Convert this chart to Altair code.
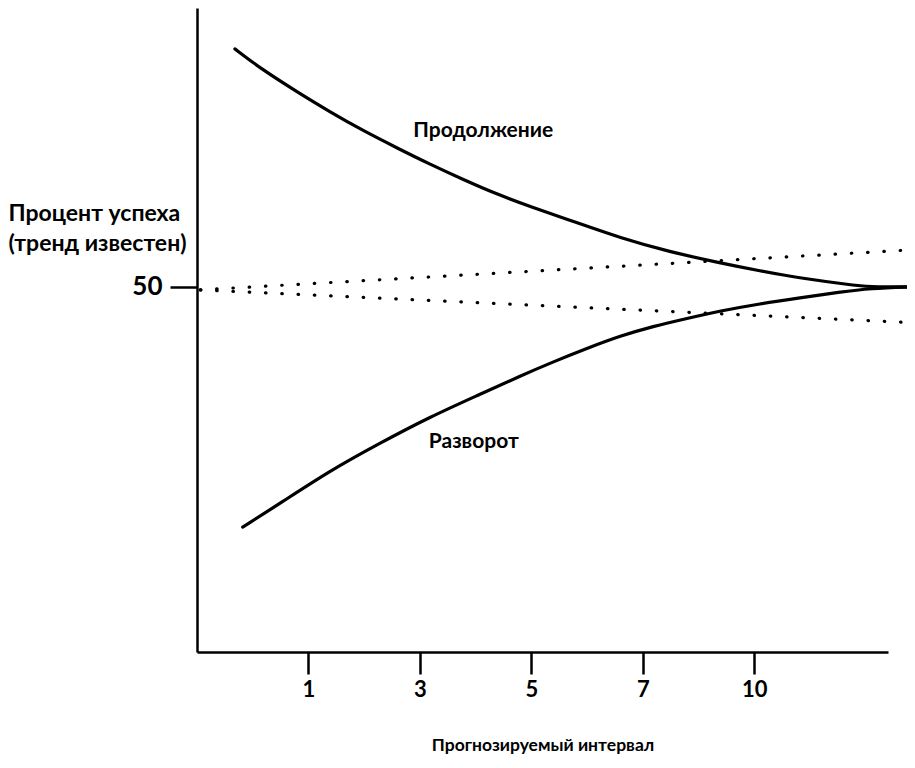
import altair as alt
import pandas as pd

# Curve "Продолжение" (continuation)
cont_x = [0.34, 0.59, 0.90, 1.19, 1.49, 1.80, 2.09, 2.39, 2.69, 2.99, 3.41, 3.80, 4.24, 4.69, 5.05, 5.41, 5.95, 6.08, 6.42]
cont_y = [82.6, 79.7, 76.7, 74.0, 71.4, 69.0, 66.8, 64.7, 62.7, 61.0, 58.8, 56.7, 54.8, 53.3, 52.2, 51.2, 50.1, 50.0, 50.0]
# Curve "Разворот" (reversal)
rev_x = [0.41, 0.75, 1.19, 1.64, 2.09, 2.54, 2.90, 3.19, 3.50, 3.80, 4.09, 4.40, 4.69, 5.05, 5.41, 5.77, 6.04, 6.42]
rev_y = [17.1, 20.4, 24.8, 28.6, 32.2, 35.3, 37.8, 39.7, 41.6, 43.3, 44.6, 45.7, 46.7, 47.7, 48.5, 49.3, 49.8, 50.0]
# Dotted bounds around 50
dot_x = [0.03, 6.44]
dot_up = [49.6, 55.1]
dot_lo = [49.6, 45.1]

tick_pos = [1, 2, 3, 4, 5]
tick_labels = ["1", "3", "5", "7", "10"]

label_names = ["Продолжение", "Разворот"]
label_x = [1.94, 2.08]
label_y = [71.4, 28.8]

curves = pd.DataFrame(
    {"x": cont_x + rev_x,
     "y": cont_y + rev_y,
     "s": ["cont"] * len(cont_x) + ["rev"] * len(rev_x)}
)
dots = pd.DataFrame(
    {"x": dot_x + dot_x,
     "y": dot_up + dot_lo,
     "s": ["up"] * 2 + ["lo"] * 2}
)
labels = pd.DataFrame({"t": label_names, "x": label_x, "y": label_y})

label_expr = "[" + ",".join("'%s'" % t for t in tick_labels) + "][datum.value - 1]"

xscale = alt.Scale(domain=[0, 6.2], nice=False, zero=False)
yscale = alt.Scale(domain=[0, 88.2], nice=False, zero=False)

xaxis = alt.Axis(
    values=tick_pos, labelExpr=label_expr, grid=False,
    title="Прогнозируемый интервал", titleFontSize=17.5, titleFontWeight="bold",
    titleY=93, titleBaseline="middle",
    labelFontSize=22, labelFontWeight="bold", labelPadding=5, labelColor="black",
    tickSize=22, tickWidth=2.5, tickColor="black",
    domainWidth=2.5, domainColor="black",
)
yaxis = alt.Axis(
    values=[50], grid=False,
    title=["Процент успеха", "(тренд известен)"], titleAngle=0, titleAlign="left",
    titleX=-189, titleY=205, titleBaseline="middle", titleLineHeight=30,
    titleFontSize=23, titleFontWeight="bold",
    labelFontSize=26, labelFontWeight="bold", labelPadding=8, labelColor="black",
    tickSize=27, tickWidth=2.5, tickColor="black",
    domainWidth=2.5, domainColor="black",
)

curve_layer = alt.Chart(curves).mark_line(
    color="black", strokeWidth=3.2, interpolate="basis", strokeCap="round"
).encode(
    x=alt.X("x:Q", scale=xscale, axis=xaxis),
    y=alt.Y("y:Q", scale=yscale, axis=yaxis),
    detail="s:N",
)

dot_layer = alt.Chart(dots).mark_line(
    color="black", strokeWidth=3.2, strokeCap="round", strokeDash=[0.5, 15.8]
).encode(
    x=alt.X("x:Q", scale=xscale),
    y=alt.Y("y:Q", scale=yscale),
    detail="s:N",
)

text_layer = alt.Chart(labels).mark_text(
    align="left", baseline="middle", fontSize=21, fontWeight="bold", color="black"
).encode(
    x=alt.X("x:Q", scale=xscale),
    y=alt.Y("y:Q", scale=yscale),
    text="t:N",
)

chart = alt.layer(dot_layer, curve_layer, text_layer).properties(
    width=691, height=644,
    autosize=alt.AutoSizeParams(type="none"),
    padding={"left": 189, "top": 0, "right": 19, "bottom": 105},
).configure(font="Lato").configure_view(stroke=None)

chart.save("out.html", embed_options={"renderer": "svg", "actions": False})
